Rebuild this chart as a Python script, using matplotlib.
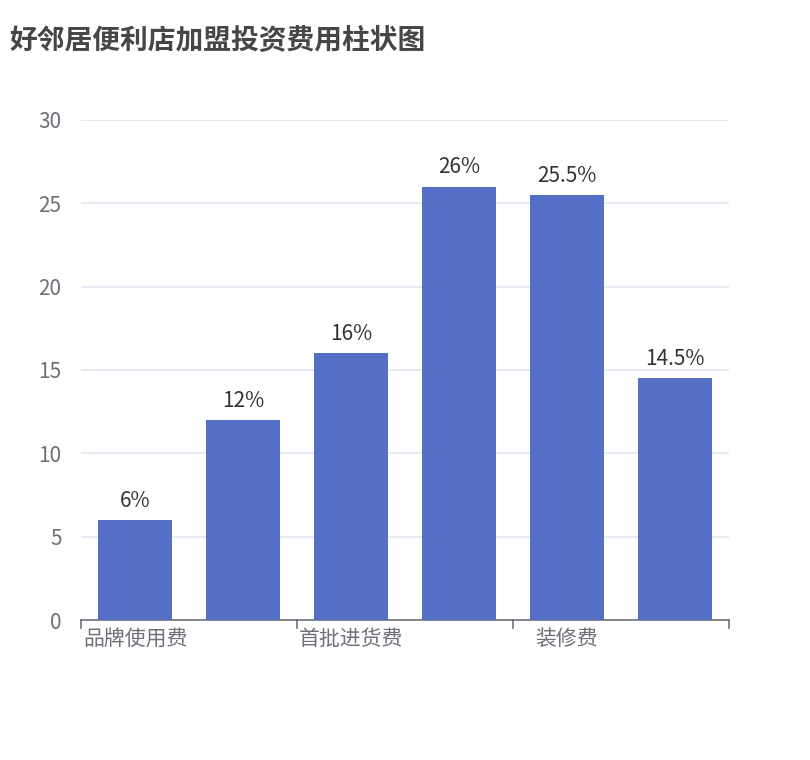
import matplotlib
matplotlib.use("Agg")
import matplotlib.pyplot as plt

plt.rcParams['font.family'] = ['Noto Sans CJK SC', 'DejaVu Sans']

title = "好邻居便利店加盟投资费用柱状图"
categories = ["品牌使用费", "加盟保证金", "首批进货费", "设备费", "装修费", "流动资金"]
values = [6, 12, 16, 26, 25.5, 14.5]
labels = ["6%", "12%", "16%", "26%", "25.5%", "14.5%"]
yticks = [0, 5, 10, 15, 20, 25, 30]

fig = plt.figure(figsize=(8.1, 7.6), dpi=100)
ax = fig.add_axes([0.1, 0.1842, 0.8, 0.658])
x = list(range(len(categories)))
ax.bar(x, values, width=0.69, color="#5470c6", zorder=3)
for xi, v, l in zip(x, values, labels):
    ax.annotate(l, (xi, v), xytext=(0, 6), textcoords="offset points",
                ha="center", va="bottom", fontsize=15, color="#333333")
ax.set_xlim(-0.5, len(categories) - 0.5)
ax.set_ylim(0, 30)
ax.set_yticks(yticks)
ax.set_yticklabels([str(t) for t in yticks], fontsize=15, color="#6e7079")
ax.tick_params(axis='y', length=0, pad=14)
ax.grid(axis='y', color="#e0e6f1", linewidth=1.2, zorder=0)
ax.set_xticks(x[::2])
ax.set_xticklabels(categories[::2], fontsize=15, color="#6e7079")
ax.tick_params(axis='x', length=0, pad=6)
for b in [-0.5, 1.5, 3.5, 5.5]:
    ax.plot([b, b], [0, -0.5], color="#6e7079", lw=1.2, clip_on=False, zorder=4)
for s in ['top', 'right', 'left']:
    ax.spines[s].set_visible(False)
ax.spines['bottom'].set_color("#6e7079")
ax.spines['bottom'].set_linewidth(1.2)
fig.text(0.012, 0.965, title, fontsize=20, fontweight='bold', color="#464646", va='top', ha='left')
fig.savefig("out.png")
